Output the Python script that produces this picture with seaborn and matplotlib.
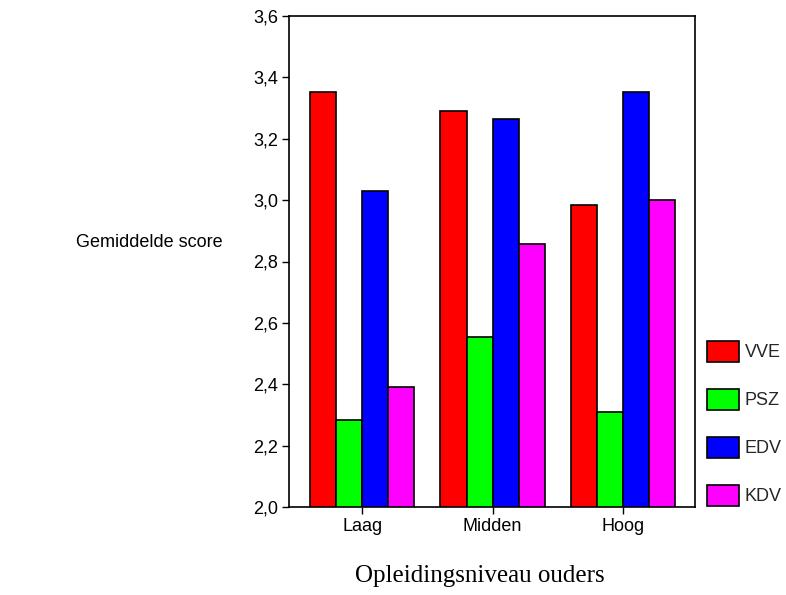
import numpy as np
import pandas as pd
import matplotlib
matplotlib.use("Agg")
import matplotlib.pyplot as plt
import seaborn as sns
from matplotlib.patches import Rectangle
from matplotlib.ticker import FuncFormatter, MultipleLocator

# data
levels = ["Laag", "Midden", "Hoog"]
groups = ["VVE", "PSZ", "EDV", "KDV"]
vve = [3.353, 3.291, 2.984]
psz = [2.284, 2.554, 2.311]
edv = [3.030, 3.265, 3.353]
kdv = [2.390, 2.856, 3.000]
colors = ["#ff0000", "#00ff00", "#0000ff", "#ff00ff"]

# long form table for seaborn
rows = []
for g, vals in zip(groups, [vve, psz, edv, kdv]):
    for lvl, v in zip(levels, vals):
        rows.append({"niveau": lvl, "groep": g, "score": v})
df = pd.DataFrame(rows)

sns.set_style("white")
plt.rcParams["font.family"] = ["Liberation Sans", "DejaVu Sans"]

fig = plt.figure(figsize=(7.86, 5.95), dpi=100)
ax = fig.add_axes([289 / 786, 1 - 507 / 595, 406 / 786, 491 / 595])

sns.barplot(
    data=df,
    x="niveau",
    y="score",
    hue="groep",
    order=levels,
    hue_order=groups,
    palette=colors,
    saturation=1,
    edgecolor="black",
    linewidth=1.2,
    width=0.8,
    legend=False,
    ax=ax,
)

ax.set_ylim(2.0, 3.6)
ax.set_xlim(-0.56, 2.55)
ax.yaxis.set_major_locator(MultipleLocator(0.2))
ax.yaxis.set_major_formatter(FuncFormatter(lambda v, p: f"{v:.1f}".replace(".", ",")))

for s in ax.spines.values():
    s.set_visible(True)
    s.set_color("black")
    s.set_linewidth(1.2)

ax.tick_params(axis="both", which="major", direction="out", length=5, width=1,
               color="black", labelsize=13, labelcolor="black",
               left=True, bottom=True, pad=3)

ax.set_ylabel("Gemiddelde score", rotation=0, fontsize=13, color="black",
              ha="center", va="center")
ax.yaxis.set_label_coords(-0.345, 0.538)
ax.set_xlabel("Opleidingsniveau ouders", fontsize=18, color="black",
              family=["Liberation Serif"])
ax.xaxis.set_label_coords(0.47, -0.118)

# legend on the right
handles = [Rectangle((0, 0), 1, 1, facecolor=c, edgecolor="black", linewidth=1.2) for c in colors]
fig.legend(handles, groups, loc="upper left", bbox_to_anchor=(707 / 786, 1 - 341 / 595),
           frameon=False, fontsize=13, handlelength=1.75, handleheight=1.4,
           handletextpad=0.35, labelspacing=1.5, borderpad=0, borderaxespad=0)

fig.savefig("out.png", dpi=100)
